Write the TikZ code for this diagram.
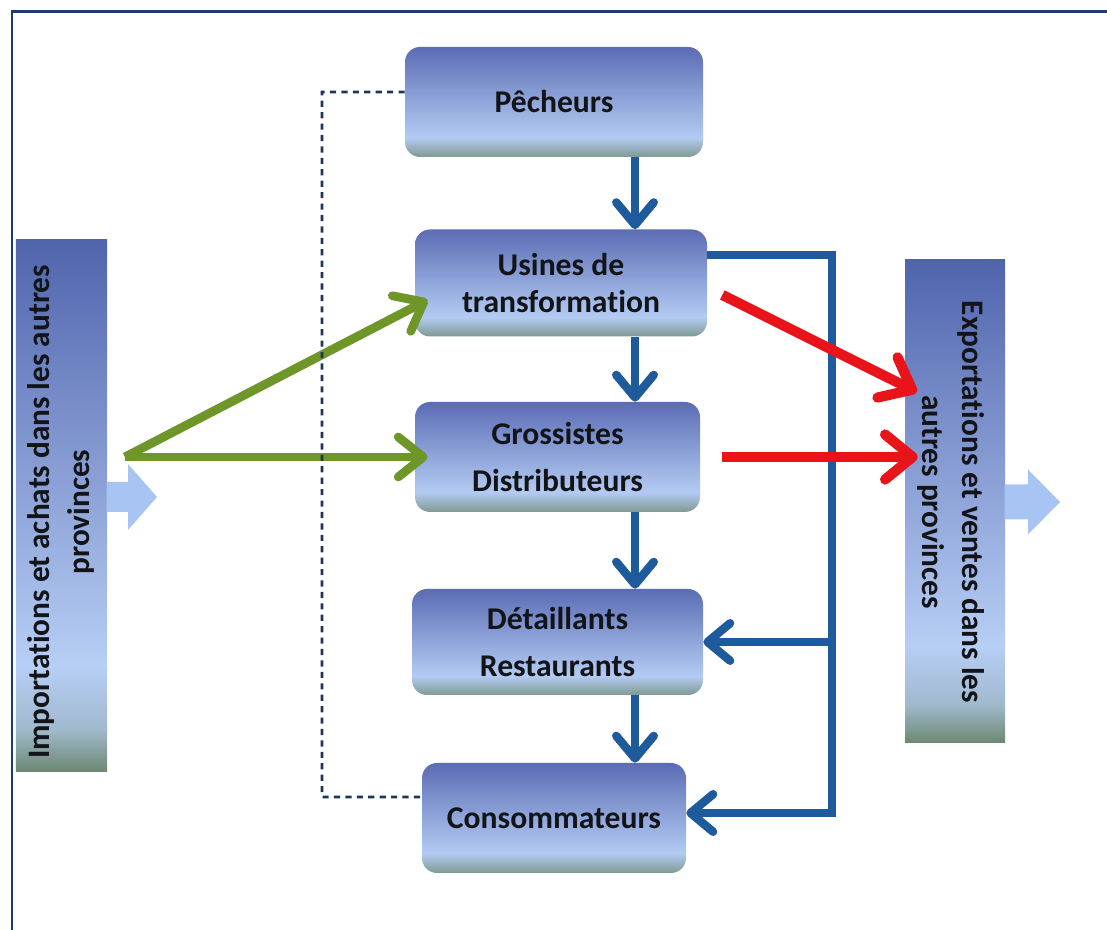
\documentclass[tikz,border=0pt]{standalone}
\usepackage{fontspec}
\setmainfont{Carlito}[Ligatures=NoCommon]
\usetikzlibrary{arrows.meta,calc,positioning}
\definecolor{flowblue}{HTML}{1D5B9C}
\definecolor{flowred}{HTML}{E8141A}
\definecolor{flowgreen}{HTML}{6E9628}
\definecolor{dashnavy}{HTML}{1D3557}
\definecolor{framenavy}{HTML}{1F3C64}
\definecolor{textdark}{HTML}{121418}
\definecolor{boxtop}{HTML}{5B6CB4}
\definecolor{boxlight}{HTML}{B3CBF3}
\definecolor{boxbot}{HTML}{7F9A92}
\definecolor{bartop}{HTML}{5064AD}
\definecolor{barlight}{HTML}{B7CEF5}
\definecolor{barbot}{HTML}{6B8870}
\definecolor{arrowfill}{HTML}{A8C4F2}
\pgfdeclareverticalshading{boxshade}{100bp}{color(0bp)=(boxbot); color(25bp)=(boxbot); color(34bp)=(boxlight); color(75bp)=(boxtop); color(100bp)=(boxtop)}
\pgfdeclareverticalshading{barshade}{100bp}{color(0bp)=(barbot); color(25bp)=(barbot); color(29bp)=(barlight!70!barbot); color(35bp)=(barlight); color(75bp)=(bartop); color(100bp)=(bartop)}

\begin{document}
\begin{tikzpicture}[
	flowbox/.style={rounded corners=0.3cm, shading=boxshade, inner sep=0pt, align=center, text=textdark, font=\fontsize{18}{21}\selectfont\bfseries},
	sidebar/.style={shading=barshade, inner sep=0pt},
	bartext/.style={align=center, text=textdark, font=\fontsize{17.8}{23}\selectfont\bfseries},
	sidearrow/.style={fill=arrowfill},
	barrow/.style={line width=4.8pt, flowblue, -{Straight Barb[length=4.5mm,width=7.5mm,round]}},
	rarrow/.style={line width=5.8pt, flowred, -{Straight Barb[length=5.5mm,width=9mm,round]}},
	garrow/.style={line width=5pt, flowgreen, -{Straight Barb[length=5mm,width=8mm,round]}},
	fbline/.style={line width=1.5pt, dashnavy, dash pattern=on 3.5pt off 3pt},
	frameline/.style={line width=1.7pt, framenavy}]
	\useasboundingbox (0,0) rectangle (22.14,18.6);
	\draw[frameline] (0.24,0) -- (0.24,18.36) -- (22.14,18.36);

	\node[sidebar, minimum width=1.82cm, minimum height=10.64cm] (lbar) at (1.23,8.48) {};
	\node[sidebar, minimum width=2cm, minimum height=9.66cm] (rbar) at (19.1,8.57) {};
	\node[bartext, rotate=90] (ltext) at (1.22,8.36) {Importations et achats dans les autres\\provinces};
	\node[bartext, rotate=-90] (rtext) at (19.02,8.56) {Exportations et ventes dans les\\autres provinces};
	\fill[sidearrow] (2.13,8.96) -- (2.56,8.96) -- (2.56,9.32) -- (3.14,8.66) -- (2.56,8.0) -- (2.56,8.36) -- (2.13,8.36) -- cycle;
	\fill[sidearrow] (20.09,8.91) -- (20.56,8.91) -- (20.56,9.21) -- (21.2,8.56) -- (20.56,7.91) -- (20.56,8.21) -- (20.09,8.21) -- cycle;

	\node[flowbox, minimum width=5.96cm, minimum height=2.2cm] (pech) at (11.08,16.56) {Pêcheurs};
	\node[flowbox, minimum width=5.84cm, minimum height=2.14cm] (usin) at (11.22,12.94) {Usines de\\transformation};
	\node[flowbox, minimum width=5.7cm, minimum height=2.2cm] (gros) at (11.15,9.46) {Grossistes\\[0.2cm]Distributeurs};
	\node[flowbox, minimum width=5.82cm, minimum height=2.12cm] (deta) at (11.15,5.76) {Détaillants\\[0.2cm]Restaurants};
	\node[flowbox, minimum width=5.28cm, minimum height=2.2cm] (cons) at (11.08,2.24) {Consommateurs};

	\coordinate (gsrc) at (2.5,9.46);
	\draw[garrow] (gsrc) -- ([xshift=2.6mm,yshift=-3.4mm]usin.west);
	\draw[garrow] (gsrc) -- ([xshift=2.6mm]gros.west);

	\coordinate (dtop) at (6.44,16.76);
	\coordinate (dbot) at (6.44,2.66);
	\draw[fbline] ([yshift=2mm]pech.west) -- (dtop) -- (dbot) -- ([yshift=4.2mm]cons.west);

	\coordinate (vx) at (12.7,0);
	\draw[barrow] (pech.south -| vx) -- (usin.north -| vx);
	\draw[barrow] (usin.south -| vx) -- (gros.north -| vx);
	\draw[barrow] (gros.south -| vx) -- (deta.north -| vx);
	\draw[barrow] (deta.south -| vx) -- (cons.north -| vx);

	\coordinate (lbot) at (16.64,2.34);
	\draw[barrow] ([yshift=5.6mm]usin.east) -| (lbot) -- (lbot -| cons.east);
	\draw[barrow] (deta.east -| lbot) -- (deta.east);

	\draw[rarrow] ([xshift=3mm,yshift=-2.4mm]usin.east) -- ([xshift=2.4mm,yshift=21.9mm]rbar.west);
	\draw[rarrow] ([xshift=4.4mm]gros.east) -- ([xshift=2.6mm]gros.east -| rbar.west);
\end{tikzpicture}
\end{document}
